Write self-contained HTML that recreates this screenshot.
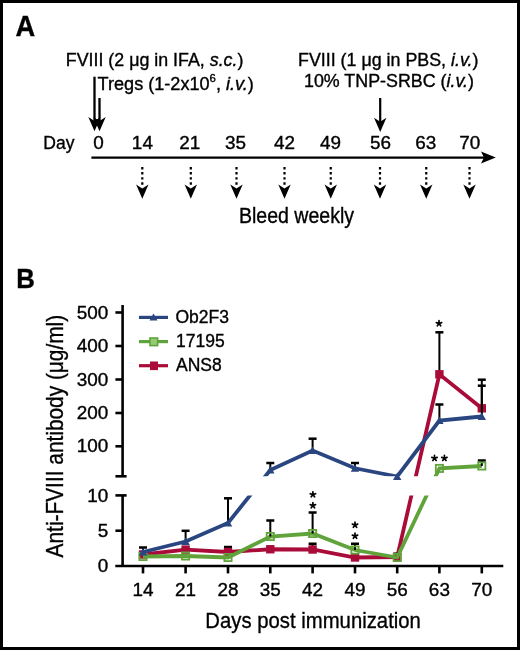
<!DOCTYPE html>
<html><head><meta charset="utf-8"><style>
html,body{margin:0;padding:0;background:#fff;}
svg{display:block;will-change:transform;}
text{font-family:"Liberation Sans",sans-serif;fill:#000;stroke:#000;stroke-width:0.35px;}
</style></head><body>
<svg width="520" height="650" viewBox="0 0 520 650">
<defs>
<path id="ah" d="M0,0 L-6.2,-14.3 L0,-10.2 L6.2,-14.3 Z"/>
<clipPath id="cu"><rect x="123" y="290" width="390" height="186.3"/></clipPath>
<clipPath id="cl"><rect x="123" y="495.6" width="390" height="72"/></clipPath>
</defs>
<rect x="1.5" y="1.5" width="517" height="647" fill="#fff" stroke="#000" stroke-width="3"/>
<text x="15.4" y="36.1" font-size="29" font-weight="bold" textLength="19.7" lengthAdjust="spacingAndGlyphs">A</text>
<text x="65.8" y="66.3" font-size="17.5" textLength="177.6" lengthAdjust="spacingAndGlyphs">FVIII (2 μg in IFA, <tspan font-style="italic">s.c.</tspan>)</text>
<text x="97.6" y="89.9" font-size="17.5" textLength="156.2" lengthAdjust="spacingAndGlyphs">Tregs (1-2x10<tspan font-size="11" dy="-7.8">6</tspan><tspan dy="7.8">, </tspan><tspan font-style="italic">i.v.</tspan>)</text>
<text x="298" y="66.3" font-size="17.5" textLength="180.4" lengthAdjust="spacingAndGlyphs">FVIII (1 μg in PBS, <tspan font-style="italic">i.v.</tspan>)</text>
<text x="304" y="87.2" font-size="17.5" textLength="170" lengthAdjust="spacingAndGlyphs">10% TNP-SRBC (<tspan font-style="italic">i.v.</tspan>)</text>
<line x1="94.5" y1="76.7" x2="94.5" y2="122" stroke="#000" stroke-width="2.3"/>
<line x1="99.5" y1="98" x2="99.5" y2="122" stroke="#000" stroke-width="2.3"/>
<use href="#ah" x="94.5" y="131.2"/>
<use href="#ah" x="99.5" y="131.2"/>
<line x1="380.2" y1="98" x2="380.2" y2="122" stroke="#000" stroke-width="2.2"/>
<use href="#ah" x="380.2" y="132"/>
<text x="43.3" y="149" font-size="17.5">Day</text>
<text x="93.24" y="149.00" font-size="17.5" textLength="10.51" lengthAdjust="spacingAndGlyphs">0</text>
<text x="131.89" y="149.00" font-size="17.5" textLength="21.02" lengthAdjust="spacingAndGlyphs">14</text>
<text x="179.24" y="149.00" font-size="17.5" textLength="21.02" lengthAdjust="spacingAndGlyphs">21</text>
<text x="225.09" y="149.00" font-size="17.5" textLength="21.02" lengthAdjust="spacingAndGlyphs">35</text>
<text x="274.09" y="149.00" font-size="17.5" textLength="21.02" lengthAdjust="spacingAndGlyphs">42</text>
<text x="320.09" y="149.00" font-size="17.5" textLength="21.02" lengthAdjust="spacingAndGlyphs">49</text>
<text x="369.99" y="149.00" font-size="17.5" textLength="21.02" lengthAdjust="spacingAndGlyphs">56</text>
<text x="415.24" y="149.00" font-size="17.5" textLength="21.02" lengthAdjust="spacingAndGlyphs">63</text>
<text x="459.24" y="149.00" font-size="17.5" textLength="21.02" lengthAdjust="spacingAndGlyphs">70</text>
<line x1="91.4" y1="157.6" x2="486" y2="157.6" stroke="#000" stroke-width="2.2"/>
<path d="M495.8,157.6 L481,151.6 L484,157.6 L481,163.6 Z"/>
<g stroke="#000" stroke-width="2.2" stroke-dasharray="2.4,2.7">
<line x1="142.3" y1="167" x2="142.3" y2="186"/>
<line x1="190.8" y1="167" x2="190.8" y2="186"/>
<line x1="236.5" y1="167" x2="236.5" y2="186"/>
<line x1="284.5" y1="167" x2="284.5" y2="186"/>
<line x1="330.75" y1="167" x2="330.75" y2="186"/>
<line x1="380" y1="167" x2="380" y2="186"/>
<line x1="426.25" y1="167" x2="426.25" y2="186"/>
<line x1="469.5" y1="167" x2="469.5" y2="186"/>
</g>
<use href="#ah" x="142.3" y="198.8"/>
<use href="#ah" x="190.8" y="198.8"/>
<use href="#ah" x="236.5" y="198.8"/>
<use href="#ah" x="284.5" y="198.8"/>
<use href="#ah" x="330.75" y="198.8"/>
<use href="#ah" x="380" y="198.8"/>
<use href="#ah" x="426.25" y="198.8"/>
<use href="#ah" x="469.5" y="198.8"/>
<text x="238.9" y="222.5" font-size="21.5" textLength="115.2" lengthAdjust="spacingAndGlyphs">Bleed weekly</text>
<text x="16.3" y="288.1" font-size="28.5" font-weight="bold" textLength="18.6" lengthAdjust="spacingAndGlyphs">B</text>
<g stroke="#000" stroke-width="2.6" fill="none">
<line x1="122.6" y1="305" x2="122.6" y2="476.3"/>
<line x1="115.4" y1="476.3" x2="126.6" y2="476.3"/>
<line x1="115.4" y1="312.5" x2="122.6" y2="312.5"/>
<line x1="115.4" y1="346" x2="122.6" y2="346"/>
<line x1="115.4" y1="379.5" x2="122.6" y2="379.5"/>
<line x1="115.4" y1="413" x2="122.6" y2="413"/>
<line x1="115.4" y1="446.3" x2="122.6" y2="446.3"/>
<line x1="122.6" y1="495.4" x2="122.6" y2="566"/>
<line x1="115.4" y1="495.4" x2="126.6" y2="495.4"/>
<line x1="115.4" y1="530.7" x2="122.6" y2="530.7"/>
<line x1="115.3" y1="566" x2="503.3" y2="566"/>
<line x1="143" y1="566" x2="143" y2="573.4"/>
<line x1="185.6" y1="566" x2="185.6" y2="573.4"/>
<line x1="228" y1="566" x2="228" y2="573.4"/>
<line x1="270.3" y1="566" x2="270.3" y2="573.4"/>
<line x1="312.6" y1="566" x2="312.6" y2="573.4"/>
<line x1="355" y1="566" x2="355" y2="573.4"/>
<line x1="397.2" y1="566" x2="397.2" y2="573.4"/>
<line x1="439.4" y1="566" x2="439.4" y2="573.4"/>
<line x1="481.8" y1="566" x2="481.8" y2="573.4"/>
</g>
<text x="76.77" y="318.60" font-size="17.5" textLength="31.53" lengthAdjust="spacingAndGlyphs">500</text>
<text x="76.77" y="352.10" font-size="17.5" textLength="31.53" lengthAdjust="spacingAndGlyphs">400</text>
<text x="76.77" y="385.60" font-size="17.5" textLength="31.53" lengthAdjust="spacingAndGlyphs">300</text>
<text x="76.77" y="419.10" font-size="17.5" textLength="31.53" lengthAdjust="spacingAndGlyphs">200</text>
<text x="76.77" y="452.40" font-size="17.5" textLength="31.53" lengthAdjust="spacingAndGlyphs">100</text>
<text x="87.28" y="501.50" font-size="17.5" textLength="21.02" lengthAdjust="spacingAndGlyphs">10</text>
<text x="97.79" y="536.80" font-size="17.5" textLength="10.51" lengthAdjust="spacingAndGlyphs">5</text>
<text x="97.79" y="572.10" font-size="17.5" textLength="10.51" lengthAdjust="spacingAndGlyphs">0</text>
<text x="132.49" y="596.40" font-size="17.5" textLength="21.02" lengthAdjust="spacingAndGlyphs">14</text>
<text x="175.09" y="596.40" font-size="17.5" textLength="21.02" lengthAdjust="spacingAndGlyphs">21</text>
<text x="217.49" y="596.40" font-size="17.5" textLength="21.02" lengthAdjust="spacingAndGlyphs">28</text>
<text x="259.79" y="596.40" font-size="17.5" textLength="21.02" lengthAdjust="spacingAndGlyphs">35</text>
<text x="302.09" y="596.40" font-size="17.5" textLength="21.02" lengthAdjust="spacingAndGlyphs">42</text>
<text x="344.49" y="596.40" font-size="17.5" textLength="21.02" lengthAdjust="spacingAndGlyphs">49</text>
<text x="386.69" y="596.40" font-size="17.5" textLength="21.02" lengthAdjust="spacingAndGlyphs">56</text>
<text x="428.89" y="596.40" font-size="17.5" textLength="21.02" lengthAdjust="spacingAndGlyphs">63</text>
<text x="471.29" y="596.40" font-size="17.5" textLength="21.02" lengthAdjust="spacingAndGlyphs">70</text>
<text x="205.3" y="627.8" font-size="22.6" textLength="215.6" lengthAdjust="spacingAndGlyphs">Days post immunization</text>
<text transform="translate(62.5,557.4) rotate(-90)" x="0" y="0" font-size="24" textLength="242.6" lengthAdjust="spacingAndGlyphs">Anti-FVIII antibody (μg/ml)</text>
<g stroke-width="3.2"><line x1="139" y1="317.4" x2="168" y2="317.4" stroke="#294680"/><line x1="139" y1="341.6" x2="168" y2="341.6" stroke="#60a33a"/><line x1="139" y1="365.7" x2="168" y2="365.7" stroke="#aa0c3a"/></g>
<path d="M153.5,313.5 L157.5,320.5 L149.5,320.5 Z" fill="#294680"/>
<rect x="150" y="338" width="7.6" height="7.6" fill="#94cc74" stroke="#60a33a" stroke-width="1.6"/>
<rect x="150" y="361.5" width="8" height="8.6" fill="#aa0c3a"/>
<text x="175.50" y="322.50" font-size="17.5" textLength="53.50" lengthAdjust="spacingAndGlyphs">Ob2F3</text>
<text x="176.00" y="346.90" font-size="17.5" textLength="48.66" lengthAdjust="spacingAndGlyphs">17195</text>
<text x="176.00" y="371.00" font-size="17.5" textLength="45.72" lengthAdjust="spacingAndGlyphs">ANS8</text>
<polyline clip-path="url(#cu)" points="143,554.5 185.6,549.6 228,552 270.3,549.25 312.6,549.5 355,557.5 397.2,557 439.4,374.3 481.8,408.3" fill="none" stroke="#aa0c3a" stroke-width="3.8" stroke-linejoin="miter"/>
<polyline clip-path="url(#cl)" points="143,554.5 185.6,549.6 228,552 270.3,549.25 312.6,549.5 355,557.5 397.2,557 439.4,374.3 481.8,408.3" fill="none" stroke="#aa0c3a" stroke-width="3.8" stroke-linejoin="miter"/>
<line x1="228" y1="552" x2="228" y2="547" stroke="#000" stroke-width="2"/>
<line x1="224" y1="547" x2="232" y2="547" stroke="#000" stroke-width="2.5"/>
<line x1="312.6" y1="549.5" x2="312.6" y2="543.75" stroke="#000" stroke-width="2"/>
<line x1="308.6" y1="543.75" x2="316.6" y2="543.75" stroke="#000" stroke-width="2.5"/>
<line x1="397.2" y1="557" x2="397.2" y2="553.75" stroke="#000" stroke-width="2"/>
<line x1="393.2" y1="553.75" x2="401.2" y2="553.75" stroke="#000" stroke-width="2.5"/>
<line x1="439.4" y1="374.3" x2="439.4" y2="332.3" stroke="#000" stroke-width="2"/>
<line x1="435.4" y1="332.3" x2="443.4" y2="332.3" stroke="#000" stroke-width="2.5"/>
<line x1="481.8" y1="408.3" x2="481.8" y2="385.7" stroke="#000" stroke-width="2"/>
<line x1="477.8" y1="385.7" x2="485.8" y2="385.7" stroke="#000" stroke-width="2.5"/>
<rect x="138.8" y="550.3" width="8.4" height="8.4" fill="#aa0c3a"/>
<rect x="181.4" y="545.4" width="8.4" height="8.4" fill="#aa0c3a"/>
<rect x="223.8" y="547.8" width="8.4" height="8.4" fill="#aa0c3a"/>
<rect x="266.1" y="545.05" width="8.4" height="8.4" fill="#aa0c3a"/>
<rect x="308.40000000000003" y="545.3" width="8.4" height="8.4" fill="#aa0c3a"/>
<rect x="350.8" y="553.3" width="8.4" height="8.4" fill="#aa0c3a"/>
<rect x="393.0" y="552.8" width="8.4" height="8.4" fill="#aa0c3a"/>
<rect x="435.2" y="370.1" width="8.4" height="8.4" fill="#aa0c3a"/>
<rect x="477.6" y="404.1" width="8.4" height="8.4" fill="#aa0c3a"/>
<polyline clip-path="url(#cu)" points="143,556.5 185.6,556 228,557.5 270.3,536.5 312.6,533.5 355,550 397.2,557.5 439.4,468.4 481.8,466" fill="none" stroke="#60a33a" stroke-width="3.8" stroke-linejoin="miter"/>
<polyline clip-path="url(#cl)" points="143,556.5 185.6,556 228,557.5 270.3,536.5 312.6,533.5 355,550 397.2,557.5 439.4,468.4 481.8,466" fill="none" stroke="#60a33a" stroke-width="3.8" stroke-linejoin="miter"/>
<line x1="270.3" y1="536.5" x2="270.3" y2="520.5" stroke="#000" stroke-width="2"/>
<line x1="266.3" y1="520.5" x2="274.3" y2="520.5" stroke="#000" stroke-width="2.5"/>
<line x1="312.6" y1="533.5" x2="312.6" y2="512.5" stroke="#000" stroke-width="2"/>
<line x1="308.6" y1="512.5" x2="316.6" y2="512.5" stroke="#000" stroke-width="2.5"/>
<line x1="355" y1="550" x2="355" y2="543.75" stroke="#000" stroke-width="2"/>
<line x1="351" y1="543.75" x2="359" y2="543.75" stroke="#000" stroke-width="2.5"/>
<line x1="481.8" y1="466" x2="481.8" y2="460.5" stroke="#000" stroke-width="2"/>
<line x1="477.8" y1="460.5" x2="485.8" y2="460.5" stroke="#000" stroke-width="2.5"/>
<rect x="139.4" y="552.9" width="7.2" height="7.2" fill="none" stroke="#60a33a" stroke-width="1.8"/>
<rect x="182.0" y="552.4" width="7.2" height="7.2" fill="none" stroke="#60a33a" stroke-width="1.8"/>
<rect x="224.4" y="553.9" width="7.2" height="7.2" fill="none" stroke="#60a33a" stroke-width="1.8"/>
<rect x="266.7" y="532.9" width="7.2" height="7.2" fill="none" stroke="#60a33a" stroke-width="1.8"/>
<rect x="309.0" y="529.9" width="7.2" height="7.2" fill="none" stroke="#60a33a" stroke-width="1.8"/>
<rect x="351.4" y="546.4" width="7.2" height="7.2" fill="none" stroke="#60a33a" stroke-width="1.8"/>
<rect x="393.59999999999997" y="553.9" width="7.2" height="7.2" fill="none" stroke="#60a33a" stroke-width="1.8"/>
<rect x="435.79999999999995" y="464.79999999999995" width="7.2" height="7.2" fill="none" stroke="#60a33a" stroke-width="1.8"/>
<rect x="478.2" y="462.4" width="7.2" height="7.2" fill="none" stroke="#60a33a" stroke-width="1.8"/>
<polyline clip-path="url(#cu)" points="143,552 185.6,541.5 228,523 270.3,470 312.6,450.5 355,468.25 397.2,476.5 439.4,420.6 481.8,416.5" fill="none" stroke="#294680" stroke-width="3.8" stroke-linejoin="miter"/>
<polyline clip-path="url(#cl)" points="143,552 185.6,541.5 228,523 270.3,470 312.6,450.5 355,468.25 397.2,476.5 439.4,420.6 481.8,416.5" fill="none" stroke="#294680" stroke-width="3.8" stroke-linejoin="miter"/>
<line x1="143" y1="552" x2="143" y2="547.5" stroke="#000" stroke-width="2"/>
<line x1="139" y1="547.5" x2="147" y2="547.5" stroke="#000" stroke-width="2.5"/>
<line x1="185.6" y1="541.5" x2="185.6" y2="530.8" stroke="#000" stroke-width="2"/>
<line x1="181.6" y1="530.8" x2="189.6" y2="530.8" stroke="#000" stroke-width="2.5"/>
<line x1="228" y1="523" x2="228" y2="498.3" stroke="#000" stroke-width="2"/>
<line x1="224" y1="498.3" x2="232" y2="498.3" stroke="#000" stroke-width="2.5"/>
<line x1="270.3" y1="470" x2="270.3" y2="463" stroke="#000" stroke-width="2"/>
<line x1="266.3" y1="463" x2="274.3" y2="463" stroke="#000" stroke-width="2.5"/>
<line x1="312.6" y1="450.5" x2="312.6" y2="438.7" stroke="#000" stroke-width="2"/>
<line x1="308.6" y1="438.7" x2="316.6" y2="438.7" stroke="#000" stroke-width="2.5"/>
<line x1="355" y1="468.25" x2="355" y2="463" stroke="#000" stroke-width="2"/>
<line x1="351" y1="463" x2="359" y2="463" stroke="#000" stroke-width="2.5"/>
<line x1="439.4" y1="420.6" x2="439.4" y2="404.5" stroke="#000" stroke-width="2"/>
<line x1="435.4" y1="404.5" x2="443.4" y2="404.5" stroke="#000" stroke-width="2.5"/>
<line x1="481.8" y1="416.5" x2="481.8" y2="379.7" stroke="#000" stroke-width="2"/>
<line x1="477.8" y1="379.7" x2="485.8" y2="379.7" stroke="#000" stroke-width="2.5"/>
<path d="M143,548 L147.2,555.5 L138.8,555.5 Z" fill="#294680"/>
<path d="M185.6,537.5 L189.79999999999998,545.0 L181.4,545.0 Z" fill="#294680"/>
<path d="M228,519 L232.2,526.5 L223.8,526.5 Z" fill="#294680"/>
<path d="M270.3,466 L274.5,473.5 L266.1,473.5 Z" fill="#294680"/>
<path d="M312.6,446.5 L316.8,454.0 L308.40000000000003,454.0 Z" fill="#294680"/>
<path d="M355,464.25 L359.2,471.75 L350.8,471.75 Z" fill="#294680"/>
<path d="M397.2,472.5 L401.4,480.0 L393.0,480.0 Z" fill="#294680"/>
<path d="M439.4,416.6 L443.59999999999997,424.1 L435.2,424.1 Z" fill="#294680"/>
<path d="M481.8,412.5 L486.0,420.0 L477.6,420.0 Z" fill="#294680"/>
<path d="M312.90,494.60 L312.90,491.80 M312.90,494.60 L315.56,493.73 M312.90,494.60 L314.55,496.87 M312.90,494.60 L311.25,496.87 M312.90,494.60 L310.24,493.73 " stroke="#000" stroke-width="1.7" stroke-linecap="round" fill="none"/>
<path d="M312.90,505.50 L312.90,502.70 M312.90,505.50 L315.56,504.63 M312.90,505.50 L314.55,507.77 M312.90,505.50 L311.25,507.77 M312.90,505.50 L310.24,504.63 " stroke="#000" stroke-width="1.7" stroke-linecap="round" fill="none"/>
<path d="M355.00,525.00 L355.00,522.20 M355.00,525.00 L357.66,524.13 M355.00,525.00 L356.65,527.27 M355.00,525.00 L353.35,527.27 M355.00,525.00 L352.34,524.13 " stroke="#000" stroke-width="1.7" stroke-linecap="round" fill="none"/>
<path d="M355.00,536.00 L355.00,533.20 M355.00,536.00 L357.66,535.13 M355.00,536.00 L356.65,538.27 M355.00,536.00 L353.35,538.27 M355.00,536.00 L352.34,535.13 " stroke="#000" stroke-width="1.7" stroke-linecap="round" fill="none"/>
<path d="M439.00,323.50 L439.00,320.70 M439.00,323.50 L441.66,322.63 M439.00,323.50 L440.65,325.77 M439.00,323.50 L437.35,325.77 M439.00,323.50 L436.34,322.63 " stroke="#000" stroke-width="1.7" stroke-linecap="round" fill="none"/>
<path d="M434.50,458.20 L434.50,455.40 M434.50,458.20 L437.16,457.33 M434.50,458.20 L436.15,460.47 M434.50,458.20 L432.85,460.47 M434.50,458.20 L431.84,457.33 " stroke="#000" stroke-width="1.7" stroke-linecap="round" fill="none"/>
<path d="M444.40,458.20 L444.40,455.40 M444.40,458.20 L447.06,457.33 M444.40,458.20 L446.05,460.47 M444.40,458.20 L442.75,460.47 M444.40,458.20 L441.74,457.33 " stroke="#000" stroke-width="1.7" stroke-linecap="round" fill="none"/>
</svg>
</body></html>
